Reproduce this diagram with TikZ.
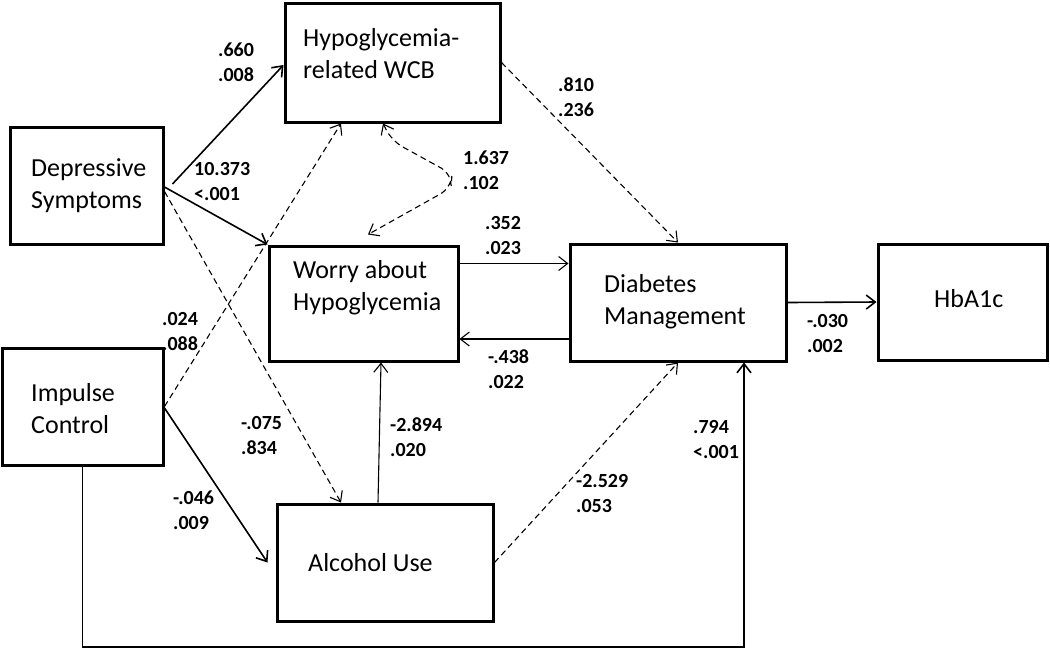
\documentclass[tikz,border=0pt]{standalone}
\usepackage{fontspec}
\setmainfont{Carlito}
\usetikzlibrary{calc,arrows.meta}

\begin{document}
\begin{tikzpicture}[x=1pt,y=-1pt,
  box/.style={draw, line width=3pt, inner sep=0pt},
  boxtext/.style={anchor=west, align=left, inner sep=0pt, font=\fontsize{26}{32}\selectfont},
  coef/.style={anchor=west, align=left, inner sep=0pt, font=\fontsize{20}{25}\selectfont\bfseries},
  strong/.style={line width=1.6pt, -{Straight Barb[length=9pt,width=14pt]}},
  weak/.style={line width=1.1pt, -{Straight Barb[length=9pt,width=14pt]}},
  dashline/.style={line width=1.1pt, dash pattern=on 6pt off 4pt, -{Straight Barb[length=9pt,width=14pt]}}
]

% Fix the canvas
\useasboundingbox (0,0) rectangle (1050,649);

% Boxes
\node[box, minimum width=215pt, minimum height=119pt] (wcb) at (392.5,62.5) {};
\node[box, minimum width=153pt, minimum height=117pt] (dep) at (86.5,185.5) {};
\node[box, minimum width=189pt, minimum height=115pt] (worry) at (363.5,303.5) {};
\node[box, minimum width=161pt, minimum height=117pt] (imp) at (82.5,406.5) {};
\node[box, minimum width=216pt, minimum height=117pt] (alc) at (385,562.5) {};
\node[box, minimum width=216pt, minimum height=117pt] (dm) at (678,302.5) {};
\node[box, minimum width=169pt, minimum height=116pt] (hba) at (962.5,302) {};

% Box texts
\node[boxtext] (wcbtext) at (303,54) {Hypoglycemia-\\related WCB};
\node[boxtext] (deptext) at (31,186) {Depressive\\Symptoms};
\node[boxtext] (worrytext) at (293,288) {Worry about\\Hypoglycemia};
\node[boxtext] (imptext) at (31,409) {Impulse\\Control};
\node[boxtext] (alctext) at (308,563) {Alcohol Use};
\node[boxtext] (dmtext) at (604,302) {Diabetes\\Management};
\node[boxtext] (hbatext) at (934,299) {HbA1c};

% Bottom corner of the long path
\coordinate (low) at (744,647);

% Solid paths
\draw[strong] ([xshift=8pt,yshift=1.5pt]dep.east) -- ([yshift=-2.5pt]wcb.west);
\draw[strong] ([yshift=-1.5pt]dep.east) -- (worry.north west);
\draw[strong] ([yshift=-1.5pt]imp.east) -- ([xshift=-8pt]alc.west);
\draw[strong] (dm.east) -- (hba.west);
\draw[strong] (imp.south) |- (low) -- ([xshift=66pt]dm.south);

% Thin paths
\draw[weak] ([yshift=40pt]worry.east) -- ([yshift=40pt]worry.east -| dm.west);
\draw[weak] ([yshift=-36.5pt]dm.west) -- ([yshift=-36.5pt]dm.west -| worry.east);
\draw[weak] ([xshift=-7pt]alc.north) -- ([xshift=17.5pt]worry.south);

% Dashed paths
\draw[dashline] ([yshift=-6pt]dep.east) -- ([xshift=-44pt]alc.north);
\draw[dashline] (imp.east) -- ([xshift=-51.5pt]wcb.south);
\draw[dashline] (wcb.east) -- (dm.north);
\draw[dashline] (alc.east) -- (dm.south);

% Covariance between WCB and worry
\draw[dashline, {Straight Barb[length=9pt,width=14pt]}-{Straight Barb[length=9pt,width=14pt]}, rounded corners=12pt]
  ([xshift=-9.5pt]wcb.south) -- (392,141) -- (452,174) -- (451,188) -- ([xshift=4.5pt,yshift=10pt]worry.north);

% Coefficients
\node[coef] (c1) at (218,62) {.660\\.008};
\node[coef] (c2) at (194,182) {10.373\\<.001};
\node[coef] (c3) at (463,170) {1.637\\.102};
\node[coef] (c4) at (558,97) {.810\\.236};
\node[coef] (c5) at (485,236) {.352\\.023};
\node[coef] (c6) at (162,332) {.024\\.088};
\node[coef] (c7) at (488,369) {-.438\\.022};
\node[coef] (c8) at (807,334) {-.030\\.002};
\node[coef] (c9) at (241,436) {-.075\\.834};
\node[coef] (c10) at (390,437) {-2.894\\.020};
\node[coef] (c11) at (693,440) {.794\\<.001};
\node[coef] (c12) at (173,510) {-.046\\.009};
\node[coef] (c13) at (576,494) {-2.529\\.053};

\end{tikzpicture}
\end{document}
